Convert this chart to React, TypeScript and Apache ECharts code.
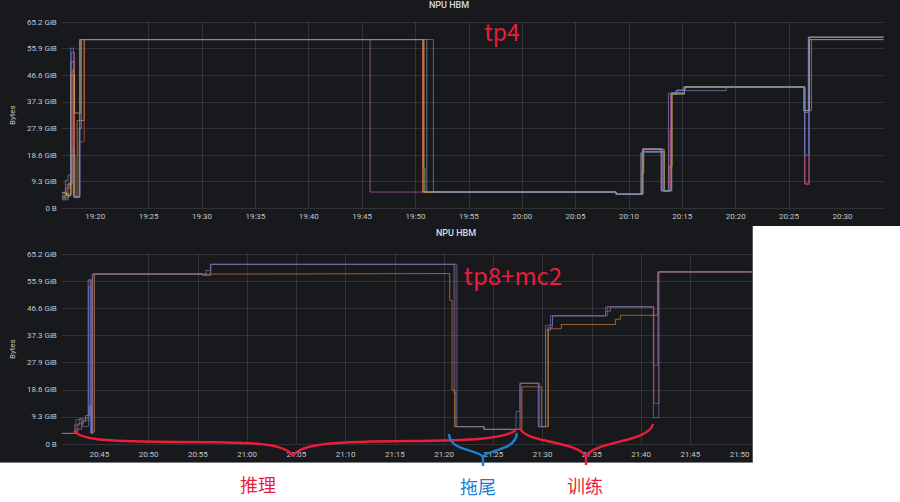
import React, { useEffect, useRef } from 'react';
import * as echarts from 'echarts';

// ---- Data (times: minutes after the base hour; values: GB = 1e9 bytes) ----
// Top panel "tp4": minutes after 19:00
const topStart = 16.87;
const topEnd = 93.85;
const topTicks = [20, 25, 30, 35, 40, 45, 50, 55, 60, 65, 70, 75, 80, 85, 90];
const topPurple: [number, number][] = [
  [16.87, 4.8], [17.35, 8.9], [17.75, 58.5], [18.05, 4.3], [18.55, 63.4], [45.75, 6.1],
  [68.8, 5.3], [71.25, 22.3], [73.15, 6.5], [73.9, 43.0], [74.5, 44.3], [75.1, 45.6],
  [86.45, 9.4], [86.85, 64.3], [93.85, 64.3],
];
const topRed: [number, number][] = [
  [16.87, 3.6], [17.2, 7.5], [17.6, 9.2], [17.85, 52], [18.0, 4.0], [18.5, 25], [18.96, 63.4],
  [50.66, 6.1], [68.8, 5.3], [71.3, 13.3], [71.4, 21.3], [73.3, 6.6], [73.85, 29.4], [74.0, 43.0],
  [74.5, 44.5], [75.3, 45.6], [86.5, 9.0], [86.9, 63.4], [93.85, 63.4],
];
const topOrange: [number, number][] = [
  [16.87, 5.5], [17.4, 4.6], [17.7, 55], [18.0, 4.5], [18.3, 33], [18.96, 63.4], [50.7, 6.1],
  [68.8, 5.3], [71.2, 13.3], [71.35, 22.0], [73.05, 6.6], [73.75, 15.6], [74.05, 43.0],
  [75.2, 45.6], [86.5, 36.7], [86.9, 63.4], [93.85, 63.4],
];
const topYellow: [number, number][] = [
  [16.87, 6.0], [17.3, 4.8], [17.7, 50], [18.05, 35.8], [18.65, 63.4], [50.8, 6.1], [68.8, 5.3],
  [71.3, 22.2], [73.3, 6.6], [74.0, 43.0], [75.2, 45.6], [86.4, 36.7], [86.9, 64.3], [93.85, 64.3],
];
const topGreen: [number, number][] = [
  [16.87, 4.0], [17.5, 5.5], [17.8, 20], [18.1, 4.2], [18.5, 30], [18.7, 63.4], [50.75, 15],
  [50.9, 6.1], [68.8, 5.3], [71.3, 21.3], [73.3, 6.6], [74.0, 43.0], [75.2, 45.6], [86.45, 36.7],
  [87.1, 63.4], [93.85, 63.4],
];
const topViolet: [number, number][] = [
  [16.87, 3.2], [17.45, 9.5], [17.7, 22], [18.0, 4.3], [18.55, 63.4], [51.06, 6.1], [68.8, 5.3],
  [71.1, 20.8], [71.3, 22.4], [73.0, 6.5], [73.7, 43.2], [74.4, 44.2], [79.1, 45.6], [86.4, 36.0],
  [86.8, 64.3], [93.85, 64.3],
];
const topBlue: [number, number][] = [
  [16.87, 4.5], [17.2, 10.5], [17.45, 12.5], [17.7, 60.2], [17.95, 4.4], [18.55, 63.4],
  [51.68, 6.1], [68.8, 5.3], [71.2, 21.0], [73.2, 6.6], [74.0, 43.5], [75.2, 45.6], [86.45, 20],
  [86.85, 63.4], [93.85, 63.4],
];

// Bottom panel "tp8+mc2": minutes after 20:00
const botStart = 41.19;
const botEnd = 111.23;
const botTicks = [45, 50, 55, 60, 65, 70, 75, 80, 85, 90, 95, 100, 105, 110];
const botViolet: [number, number][] = [
  [41.19, 3.9], [42.5, 7.0], [43.0, 9.5], [43.85, 60.4], [44.1, 4.0], [44.28, 62.7], [55.5, 62.3],
  [55.8, 64], [56.3, 66.3], [81.3, 6.4], [84.06, 5.4], [87.7, 22.4], [89.6, 6.4], [90.3, 43.8],
  [91.0, 47.3], [96.4, 49], [96.9, 50.6], [101.25, 9.7], [101.8, 63.5], [111.23, 63.7],
];
const botOrange: [number, number][] = [
  [41.19, 3.9], [42.7, 5.5], [43.2, 8.5], [43.6, 10.5], [44.0, 14], [44.2, 4.4], [44.5, 62.7],
  [60, 62.9], [80.57, 53], [80.8, 19.9], [81.07, 6.4], [84.06, 5.4], [87.9, 21.1], [89.9, 6.4],
  [90.6, 42.5], [91.9, 44.1], [97.4, 46], [97.9, 47.5], [101.7, 63.5], [111.23, 63.7],
];
const botBlue: [number, number][] = [
  [41.19, 3.9], [42.6, 9.0], [43.3, 6.5], [43.9, 58], [44.15, 4.0], [44.3, 62.7], [55.5, 62.3],
  [56.3, 66.3], [81.0, 19], [81.2, 6.4], [84.06, 5.4], [87.3, 12], [87.7, 22.4], [89.55, 6.4],
  [90.3, 42], [90.8, 47.3], [96.4, 50.6], [101.25, 29], [101.7, 63.5], [111.23, 63.7],
];
const botRed: [number, number][] = [
  [41.19, 3.9], [42.8, 7.5], [43.4, 8.5], [43.95, 60.7], [44.2, 4.0], [44.35, 62.7], [55.5, 62.3],
  [56.3, 66.3], [81.1, 6.4], [84.06, 5.4], [87.8, 22.4], [89.7, 6.4], [90.5, 43], [91.0, 47.3],
  [96.6, 50.6], [101.3, 15], [101.8, 63.5], [111.23, 63.7],
];

const topSeries = [
  { name: 'npu0', color: '#B55FA9', data: topPurple },
  { name: 'npu1', color: '#D9534F', data: topRed },
  { name: 'npu2', color: '#E0873A', data: topOrange },
  { name: 'npu3', color: '#D9B43A', data: topYellow },
  { name: 'npu4', color: '#79A86B', data: topGreen },
  { name: 'npu5', color: '#4E8BD6', data: topBlue },
  { name: 'npu6', color: '#8A82B8', data: topViolet },
];
const botSeries = [
  { name: 'npu0', color: '#C0485A', data: botRed },
  { name: 'npu1', color: '#4A79C0', data: botBlue },
  { name: 'npu2', color: '#C97B3C', data: botOrange },
  { name: 'npu3', color: '#7D6FA8', data: botViolet },
];

const yTicksGB = { min: 0, max: 70, interval: 10 };

const BG = '#18191d';
const TXT = '#c4c5cc';
const GRIDC = 'rgba(255,255,255,0.11)';
const RED = '#ec1c3c';
const BLUE = '#1c7fd0';

const fmtBytes = (v: number) => (v === 0 ? '0 B' : ((v * 1e9) / 2 ** 30).toFixed(1) + ' GiB');
const fmtClock = (baseHour: number) => (m: number) => {
  const total = Math.round(m);
  const h = baseHour + Math.floor(total / 60);
  const mm = total % 60;
  return `${h}:${mm < 10 ? '0' + mm : mm}`;
};

export default function App() {
  const ref = useRef<HTMLDivElement>(null);
  useEffect(() => {
    const chart = echarts.init(ref.current!, null, { renderer: 'svg' });
    const xAxisCommon = (baseHour: number, s: number, e: number, ticks: number[], idx: number, margin: number) => ({
      type: 'value',
      gridIndex: idx,
      min: s,
      max: e,
      axisLine: { show: false },
      axisTick: { show: false, customValues: ticks },
      axisLabel: {
        customValues: ticks,
        formatter: fmtClock(baseHour),
        fontSize: 8,
        color: TXT,
        fontFamily: 'Roboto',
        margin,
      },
      splitLine: { show: true, showMinLine: false, showMaxLine: false, lineStyle: { color: GRIDC, width: 1 } },
    });
    const yAxisCommon = (idx: number) => ({
      type: 'value',
      gridIndex: idx,
      ...yTicksGB,
      name: 'Bytes',
      nameLocation: 'middle',
      nameGap: 30,
      nameRotate: 90,
      nameTextStyle: { fontSize: 8, color: TXT, fontFamily: 'Roboto' },
      axisLine: { show: false },
      axisTick: { show: false },
      axisLabel: { formatter: fmtBytes, fontSize: 8, color: TXT, fontFamily: 'Roboto', margin: 5 },
      splitLine: { show: true, lineStyle: { color: GRIDC, width: 1 } },
    });
    const mkSeries = (list: any[], idx: number) =>
      list.map((s) => ({
        type: 'line',
        name: s.name,
        xAxisIndex: idx,
        yAxisIndex: idx,
        step: 'end',
        showSymbol: false,
        silent: true,
        lineStyle: { width: 1, color: s.color, opacity: 0.72 },
        itemStyle: { color: s.color },
        data: s.data,
      }));

    const brace = (shape: any, color: string) => ({
      type: 'bezierCurve',
      z: 100,
      shape,
      style: { stroke: color, lineWidth: 2.4, fill: 'none' },
    });
    const seg = (x1: number, y1: number, x2: number, y2: number, color: string) => ({
      type: 'line',
      z: 100,
      shape: { x1, y1, x2, y2 },
      style: { stroke: color, lineWidth: 2.4 },
    });

    const option: any = {
      animation: false,
      backgroundColor: '#ffffff',
      textStyle: { fontFamily: 'Roboto' },
      grid: [
        { left: 48.3, top: 22, width: 835.2, height: 186.3 },
        { left: 48.3, top: 254.3, width: 703.4, height: 189.7 },
      ],
      xAxis: [
        xAxisCommon(19, topStart, topEnd, topTicks, 0, 4.5),
        xAxisCommon(20, botStart, botEnd, botTicks, 1, 6),
      ],
      yAxis: [yAxisCommon(0), yAxisCommon(1)],
      series: [...mkSeries(topSeries, 0), ...mkSeries(botSeries, 1)],
      graphic: [
        { type: 'rect', z: -10, silent: true, shape: { x: 0, y: 0, width: 900, height: 226 }, style: { fill: BG } },
        { type: 'rect', z: -10, silent: true, shape: { x: 0, y: 226, width: 752, height: 236 }, style: { fill: BG } },
        { type: 'line', z: -9, shape: { x1: 0, y1: 462.5, x2: 752.5, y2: 462.5 }, style: { stroke: '#7a7b80', lineWidth: 1 } },
        { type: 'line', z: -9, shape: { x1: 752.5, y1: 226, x2: 752.5, y2: 462.5 }, style: { stroke: '#55565c', lineWidth: 1 } },
        {
          type: 'text', z: 50, x: 449, y: 4.5,
          style: { text: 'NPU HBM', fill: '#d8d9e0', font: '500 9px Roboto', align: 'center', verticalAlign: 'middle' },
        },
        {
          type: 'text', z: 50, x: 456, y: 233.3,
          style: { text: 'NPU HBM', fill: '#d8d9e0', font: '500 9px Roboto', align: 'center', verticalAlign: 'middle' },
        },
        {
          type: 'text', z: 100, x: 502, y: 31,
          style: { text: 'tp4', fill: RED, font: '23px "Noto Sans CJK SC"', align: 'center', verticalAlign: 'middle' },
        },
        {
          type: 'text', z: 100, x: 513, y: 274,
          style: { text: 'tp8+mc2', fill: RED, font: '24px "Noto Sans CJK SC"', align: 'center', verticalAlign: 'middle' },
        },
        // 推理 brace
        brace({ x1: 74, y1: 431, cpx1: 82, cpy1: 441, cpx2: 115, cpy2: 441.5, x2: 180, y2: 442 }, RED),
        brace({ x1: 180, y1: 442, cpx1: 255, cpy1: 442, cpx2: 285, cpy2: 443, x2: 293, y2: 456 }, RED),
        brace({ x1: 293, y1: 456, cpx1: 300, cpy1: 443, cpx2: 340, cpy2: 441.5, x2: 410, y2: 441 }, RED),
        brace({ x1: 410, y1: 441, cpx1: 470, cpy1: 440.5, cpx2: 505, cpy2: 439, x2: 516, y2: 430 }, RED),
        // 拖尾 brace
        brace({ x1: 449, y1: 434, cpx1: 450, cpy1: 452, cpx2: 479, cpy2: 449, x2: 483, y2: 457 }, BLUE),
        brace({ x1: 483, y1: 457, cpx1: 487, cpy1: 449, cpx2: 515, cpy2: 452, x2: 517, y2: 433 }, BLUE),
        seg(483, 457, 483, 466, BLUE),
        // 训练 brace
        brace({ x1: 520, y1: 428, cpx1: 524, cpy1: 443, cpx2: 580, cpy2: 441, x2: 586, y2: 457 }, RED),
        brace({ x1: 586, y1: 457, cpx1: 592, cpy1: 441, cpx2: 648, cpy2: 443, x2: 653, y2: 424 }, RED),
        seg(586, 457, 586, 465, RED),
        {
          type: 'text', z: 100, x: 258, y: 484,
          style: { text: '推理', fill: RED, font: '18px "Noto Sans CJK SC"', align: 'center', verticalAlign: 'middle' },
        },
        {
          type: 'text', z: 100, x: 478, y: 486,
          style: { text: '拖尾', fill: BLUE, font: '18px "Noto Sans CJK SC"', align: 'center', verticalAlign: 'middle' },
        },
        {
          type: 'text', z: 100, x: 585, y: 485,
          style: { text: '训练', fill: RED, font: '18px "Noto Sans CJK SC"', align: 'center', verticalAlign: 'middle' },
        },
      ],
    };
    chart.setOption(option);
    return () => chart.dispose();
  }, []);
  return <div ref={ref} style={{ position: 'fixed', left: 0, top: 0, width: 900, height: 502 }} />;
}
